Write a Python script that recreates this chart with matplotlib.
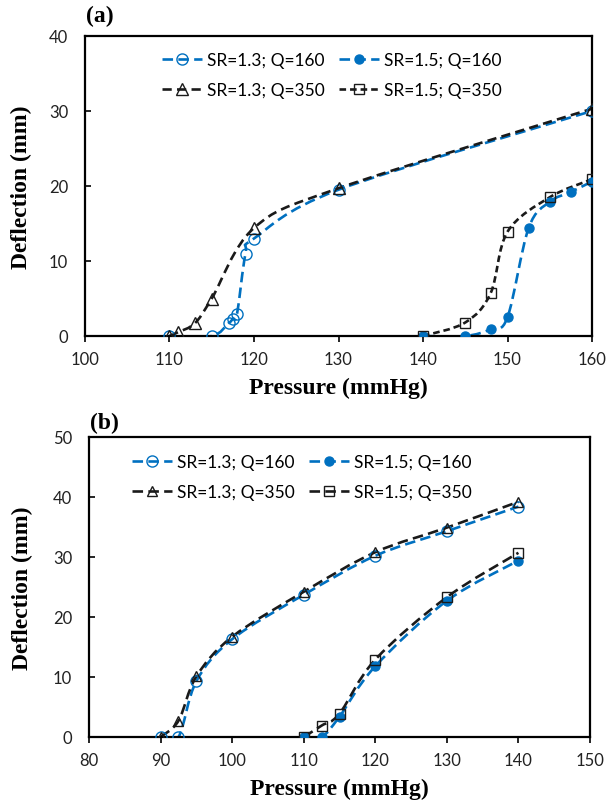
import matplotlib
matplotlib.use("Agg")
import matplotlib.pyplot as plt
from matplotlib.path import Path
from matplotlib.patches import PathPatch
from matplotlib.lines import Line2D
import numpy as np

# panel (a)
a_p13_160 = [110, 115, 117, 117.5, 118, 119, 120, 130, 160]
a_d13_160 = [0, 0, 1.7, 2.3, 3.0, 11.0, 13.0, 19.5, 30.0]
a_p15_160 = [140, 145, 148, 150, 152.5, 155, 157.5, 160]
a_d15_160 = [0, 0, 0.9, 2.5, 14.4, 17.9, 19.2, 20.6]
a_p13_350 = [110, 111, 113, 115, 120, 130, 160]
a_d13_350 = [0, 0.5, 1.7, 5.0, 14.4, 19.7, 30.3]
a_p15_350 = [140, 145, 148, 150, 155, 160]
a_d15_350 = [0, 1.8, 5.7, 13.9, 18.5, 20.9]

# panel (b)
b_p13_160 = [90, 92.5, 95, 100, 110, 120, 130, 140]
b_d13_160 = [0, 0, 9.3, 16.3, 23.7, 30.2, 34.3, 38.4]
b_p15_160 = [110, 112.5, 115, 120, 130, 140]
b_d15_160 = [0, 0, 3.4, 11.8, 22.7, 29.4]
b_p13_350 = [90, 92.5, 95, 100, 110, 120, 130, 140]
b_d13_350 = [0, 2.7, 10.1, 16.7, 24.2, 30.8, 34.9, 39.2]
b_p15_350 = [110, 112.5, 115, 120, 130, 140]
b_d15_350 = [0, 1.9, 3.9, 12.9, 23.3, 30.7]

labels = ["SR=1.3; Q=160", "SR=1.5; Q=160", "SR=1.3; Q=350", "SR=1.5; Q=350"]

BLUE = "#0070C0"
BLACK = "#1a1a1a"
TICKFONT = "Lato"
SERIF = "Liberation Serif"


def smooth_path(x, y):
    # excel-like smoothed line: catmull-rom segments as cubic bezier
    pts = np.column_stack([x, y]).astype(float)
    n = len(pts)
    verts = [pts[0]]
    codes = [Path.MOVETO]
    for i in range(n - 1):
        p0 = pts[i - 1] if i > 0 else pts[i]
        p1 = pts[i]
        p2 = pts[i + 1]
        p3 = pts[i + 2] if i + 2 < n else pts[i + 1]
        c1 = p1 + (p2 - p0) / 6.0
        c2 = p2 - (p3 - p1) / 6.0
        verts += [c1, c2, p2]
        codes += [Path.CURVE4] * 3
    return Path(verts, codes)


def series(ax, x, y, color, marker, mfc, ms, dash):
    ax.add_patch(PathPatch(smooth_path(x, y), fill=False, edgecolor=color,
                           lw=1.9, linestyle=(0, dash), zorder=2))
    ax.plot(x, y, linestyle="none", marker=marker, ms=ms, mfc=mfc,
            mec=color, mew=1.0, zorder=3)
    return Line2D([], [], color=color, lw=1.9, linestyle=(0, dash),
                  marker=marker, ms=ms, mfc=mfc, mec=color, mew=1.0)


def style(ax, xlim, ylim, xstep, ystep):
    ax.set_xlim(*xlim)
    ax.set_ylim(*ylim)
    ax.set_xticks(np.arange(xlim[0], xlim[1] + 0.1, xstep))
    ax.set_yticks(np.arange(ylim[0], ylim[1] + 0.1, ystep))
    for s in ax.spines.values():
        s.set_linewidth(1.6)
        s.set_color("black")
    ax.tick_params(axis="x", direction="out", length=4, width=1.2, pad=7)
    ax.tick_params(axis="y", direction="in", length=4, width=1.2, pad=12)
    for t in ax.get_xticklabels() + ax.get_yticklabels():
        t.set_fontfamily(TICKFONT)
        t.set_fontsize(12)
        t.set_color("#222222")
    ax.set_xlabel("Pressure (mmHg)", fontfamily=SERIF, fontweight="bold",
                  fontsize=17, va="center")
    ax.set_ylabel("Deflection (mm)", fontfamily=SERIF, fontweight="bold",
                  fontsize=17, va="center")
    ax.xaxis.set_label_coords(0.5, -0.172)


def add_legend(ax, hs, anchor):
    ax.legend([hs[0], hs[2], hs[1], hs[3]], [labels[0], labels[2], labels[1], labels[3]],
              ncol=2, frameon=False, loc="upper left", bbox_to_anchor=anchor,
              prop={"family": TICKFONT, "size": 12.5}, handlelength=2.3,
              handletextpad=0.3, columnspacing=0.8, labelspacing=0.8,
              borderaxespad=0, borderpad=0)


fig = plt.figure(figsize=(6.16, 8.04), dpi=100)
ax1 = fig.add_axes([85 / 616, 1 - 337 / 804, 507 / 616, 300 / 804])
ax2 = fig.add_axes([89 / 616, 1 - 738 / 804, 501 / 616, 300 / 804])

h = []
h.append(series(ax1, a_p13_160, a_d13_160, BLUE, "o", "none", 8, (4, 2)))
h.append(series(ax1, a_p15_160, a_d15_160, BLUE, "o", BLUE, 6.5, (4, 2)))
h.append(series(ax1, a_p13_350, a_d13_350, BLACK, "^", "none", 8.5, (3.5, 2)))
h.append(series(ax1, a_p15_350, a_d15_350, BLACK, "s", "none", 7.5, (2.5, 1.5)))
style(ax1, (100, 160), (0, 40), 10, 10)
ax1.yaxis.set_label_coords(-0.125, 0.5)
add_legend(ax1, h, (0.152, 0.947))

g = []
g.append(series(ax2, b_p13_160, b_d13_160, BLUE, "o", "none", 8, (4, 2)))
g.append(series(ax2, b_p15_160, b_d15_160, BLUE, "o", BLUE, 6.5, (4, 2)))
g.append(series(ax2, b_p13_350, b_d13_350, BLACK, "^", "none", 7, (4, 2)))
g.append(series(ax2, b_p15_350, b_d15_350, BLACK, "s", "none", 7, (4, 2)))
style(ax2, (80, 150), (0, 50), 10, 10)
ax2.yaxis.set_label_coords(-0.133, 0.5)
add_legend(ax2, g, (0.086, 0.942))

fig.text(100 / 616, 1 - 16 / 804, "(a)", fontfamily=SERIF, fontweight="bold",
         fontsize=17, ha="center", va="center")
fig.text(104 / 616, 1 - 423 / 804, "(b)", fontfamily=SERIF, fontweight="bold",
         fontsize=17, ha="center", va="center")

fig.savefig("out.png", dpi=100)
